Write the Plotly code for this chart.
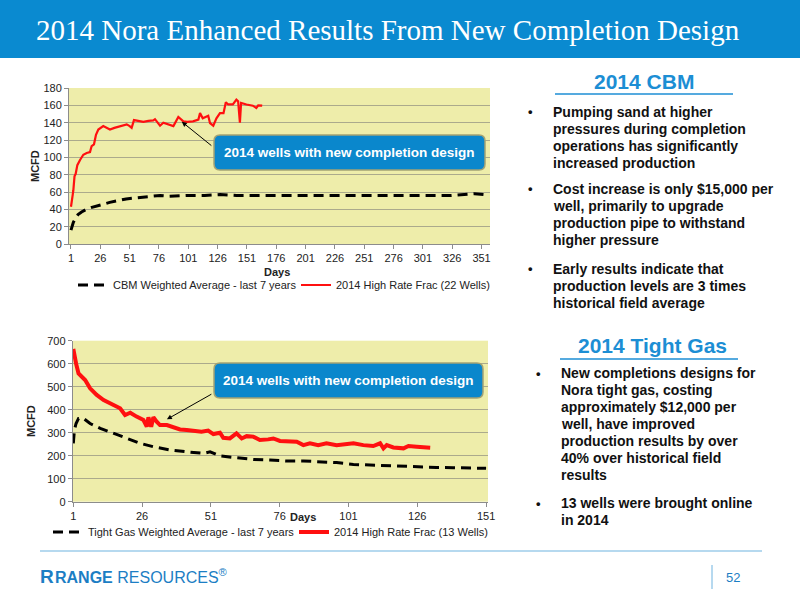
import plotly.graph_objects as go

# ---------------- DATA ----------------
# Chart 1: CBM
cbm_avg_days = [1, 2, 3, 5, 7, 10, 14, 18, 23, 28, 34, 41, 48, 55, 63, 70, 77, 85, 100, 115, 128, 142, 156, 175, 199, 220, 242, 270, 298, 325, 345, 353]
cbm_avg_vals = [16, 21, 25, 30, 34, 37, 40, 42, 44, 46, 48, 50, 52, 53, 54, 55, 56, 55, 56, 56, 57, 56, 56, 56, 56, 56, 56, 56, 56, 56, 58, 57]

cbm_new_days = [1, 2, 2.5, 3, 4, 5, 6.4, 8.7, 11.5, 14.4, 17.2, 18.6, 20.6, 22.3, 24.3, 28.5, 31, 34.2, 38, 42.8, 48.5, 51, 52.7, 54.7, 58, 62.7, 67, 71.2, 72.6, 76.9, 79.7, 85.4, 88.3, 92.5, 94, 96.8, 100, 105, 109.6, 111, 113.3, 118, 119.5, 122.3, 125, 128, 131, 133, 135, 139, 142, 143.5, 145, 146, 150.6, 156, 159, 160.6, 164]
cbm_new_vals = [43, 50, 57, 62, 78, 81, 91, 97, 103, 105, 106, 113, 115, 126, 132, 136, 134, 132, 134, 136, 138, 136, 134, 143, 142, 141, 142, 142.7, 144, 136.5, 140, 137.7, 136, 146.5, 145, 141.5, 141, 141.5, 143.5, 151, 145, 148, 139.6, 136.5, 145, 151, 151, 163.5, 161, 161, 166.5, 164.6, 140, 162.7, 161, 159.6, 157, 160, 159.6]

cbm_ticks = [1, 26, 51, 76, 101, 126, 151, 176, 201, 226, 251, 276, 301, 326, 351]

# Chart 2: Tight gas
tg_avg_days = [1, 1.4, 2, 2.9, 4.7, 7.1, 10.8, 15.6, 20.5, 25.3, 30.1, 36.2, 42.2, 48.3, 50.7, 54.3, 60.3, 66.4, 72.4, 78.5, 84.6, 90.6, 96.7, 102.8, 108.8, 114.9, 121, 127, 133, 139, 145, 151]
tg_avg_vals = [254, 311, 340, 362, 362, 340, 319, 297, 275, 254, 239, 225, 217, 210, 217, 199, 191, 184, 181, 177, 177, 174, 170, 162, 159, 157, 155, 152, 149, 148, 145, 145]

tg_new_days = [1, 1.4, 2, 2.9, 4.1, 5.3, 7.1, 9.5, 12, 13.8, 15.6, 18, 19.8, 21.7, 24, 26.5, 27.7, 28.3, 29.3, 30.1, 31.3, 32.5, 35, 37.4, 39.8, 42.2, 44.6, 47.6, 50, 51.9, 54.3, 55.5, 57.9, 60.3, 62.2, 64, 66.4, 68.8, 71.8, 73.7, 76.1, 78.5, 82.2, 84.6, 87, 90, 93, 96.7, 99.7, 102.8, 106.4, 110, 112.5, 113.7, 114.9, 117.3, 121, 122.8, 125.8, 128.3, 130.7]
tg_new_vals = [664, 630, 601, 558, 543, 529, 493, 464, 442, 430, 420, 406, 377, 387, 370, 355, 326, 367, 326, 367, 348, 333, 333, 322, 314, 312, 307, 304, 309, 294, 300, 278, 275, 297, 275, 285, 283, 268, 271, 275, 264, 264, 261, 246, 254, 246, 254, 246, 251, 254, 246, 242, 254, 232, 246, 236, 232, 242, 239, 236, 235]

tg_ticks = [1, 26, 51, 76, 101, 126, 151]

# Text
title_text = "2014 Nora Enhanced Results From New Completion Design"
cbm_lines = [
    ["Pumping sand at higher", "pressures during completion", "operations has significantly", "increased production"],
    ["Cost increase is only $15,000 per", "well, primarily to upgrade", "production pipe to withstand", "higher pressure"],
    ["Early results indicate that", "production levels are 3 times", "historical field average"],
]
tg_lines = [
    ["New completions designs for", "Nora tight gas, costing", "approximately $12,000 per", "well, have improved", "production results by over", "40% over historical field", "results"],
    ["13 wells were brought online", "in 2014"],
]

# ---------------- FIGURE ----------------
W, H = 800, 600
def px(x):
    return x / W
def py(y):
    return 1 - y / H

FONT = "Liberation Sans, Arial, sans-serif"
BLUE = "#0A8AD0"
fig = go.Figure()

dash_pat = "10px,6px"
fig.add_trace(go.Scatter(x=cbm_avg_days, y=cbm_avg_vals, mode="lines", name="CBM Weighted Average - last 7 years",
                         line=dict(color="black", width=3, dash=dash_pat), xaxis="x", yaxis="y", legend="legend"))
fig.add_trace(go.Scatter(x=cbm_new_days, y=cbm_new_vals, mode="lines", name="2014 High Rate Frac (22 Wells)",
                         line=dict(color="#FF1010", width=2.2), xaxis="x", yaxis="y", legend="legend"))
fig.add_trace(go.Scatter(x=tg_avg_days, y=tg_avg_vals, mode="lines", name="Tight Gas Weighted Average - last 7 years",
                         line=dict(color="black", width=3, dash=dash_pat), xaxis="x2", yaxis="y2", legend="legend2"))
fig.add_trace(go.Scatter(x=tg_new_days, y=tg_new_vals, mode="lines", name="2014 High Rate Frac (13 Wells)",
                         line=dict(color="#FF1010", width=4), xaxis="x2", yaxis="y2", legend="legend2"))

axis_common = dict(showline=True, linecolor="#8C8C8C", linewidth=1, ticks="outside", ticklen=4, automargin=False,
                   tickcolor="#8C8C8C", tickfont=dict(family=FONT, size=11, color="#222"), zeroline=False)
grid = dict(showgrid=True, gridcolor="#ABAA8C", gridwidth=1)

fig.update_layout(
    width=W, height=H, margin=dict(l=0, r=0, t=0, b=0, autoexpand=False),
    paper_bgcolor="white", plot_bgcolor="#EEEDAA",
    font=dict(family=FONT, size=11, color="#222"),
    xaxis=dict(domain=[px(69), px(490)], range=[-0.7, 358.2], tickvals=cbm_ticks, showgrid=False, anchor="y", **axis_common),
    yaxis=dict(domain=[py(244), py(88)], range=[0, 180], dtick=20, anchor="x", **grid, **axis_common),
    xaxis2=dict(domain=[px(72.7), px(488)], range=[0.78, 151.7], tickvals=tg_ticks, showgrid=False, anchor="y2", **axis_common),
    yaxis2=dict(domain=[py(501.7), py(340.7)], range=[0, 700], dtick=100, anchor="x2", **grid, **axis_common),
    legend=dict(orientation="h", x=px(73), y=py(285), xanchor="left", yanchor="middle",
                font=dict(family=FONT, size=11, color="#222"), bgcolor="rgba(0,0,0,0)",
                entrywidth=178, entrywidthmode="pixels", tracegroupgap=0, itemwidth=30),
    legend2=dict(orientation="h", x=px(48), y=py(532), xanchor="left", yanchor="middle",
                 font=dict(family=FONT, size=11, color="#222"), bgcolor="rgba(0,0,0,0)",
                 entrywidth=201, entrywidthmode="pixels", tracegroupgap=0, itemwidth=30),
    showlegend=True,
)

shapes = []
annotations = []

def label(text, x, y, size, color="#222", family=FONT, xanchor="center", yanchor="middle", **kw):
    annotations.append(dict(text=text, xref="paper", yref="paper", x=px(x), y=py(y), xanchor=xanchor,
                            yanchor=yanchor, showarrow=False, font=dict(family=family, size=size, color=color), **kw))

# Title bar
shapes.append(dict(type="rect", xref="paper", yref="paper", x0=0, x1=1, y0=py(58), y1=1,
                   fillcolor=BLUE, line=dict(width=0), layer="below"))
label(title_text, 34, 30, 29, "white", "Liberation Serif, Times New Roman, serif", xanchor="left")

# Axis titles
label("<b>Days</b>", 277, 272, 11)
label("<b>MCFD</b>", 35, 166, 11, textangle=-90)
label("<b>Days</b>", 303, 517, 11)
label("<b>MCFD</b>", 31, 421, 11, textangle=-90)

# Rounded callout boxes
def rounded_box(x0, y0, x1, y1, r=6):
    X0, X1 = px(x0), px(x1)
    Y0, Y1 = py(y0), py(y1)  # Y0 top, Y1 bottom
    rx, ry = r / W, r / H
    path = (f"M {X0+rx},{Y0} L {X1-rx},{Y0} Q {X1},{Y0} {X1},{Y0-ry} L {X1},{Y1+ry} Q {X1},{Y1} {X1-rx},{Y1} "
            f"L {X0+rx},{Y1} Q {X0},{Y1} {X0},{Y1+ry} L {X0},{Y0-ry} Q {X0},{Y0} {X0+rx},{Y0} Z")
    return dict(type="path", xref="paper", yref="paper", path=path, fillcolor="#0A87CC",
                line=dict(color="#A3A374", width=1.5), layer="above")

for (bx0, by0, bx1, by1) in [(214, 135, 485, 170), (214, 363, 483, 398)]:
    shapes.append(rounded_box(bx0, by0, bx1, by1))
    label("<b>2014 wells with new completion design</b>", (bx0 + bx1) / 2, (by0 + by1) / 2, 13.5, "white")

# Arrows
annotations.append(dict(text="", x=95.5, y=141, xref="x", yref="y", showarrow=True, ax=31, ay=25,
                        arrowhead=2, arrowsize=1, arrowwidth=1, arrowcolor="black", standoff=0))
annotations.append(dict(text="", x=35, y=358, xref="x2", yref="y2", showarrow=True, ax=46, ay=-26,
                        arrowhead=2, arrowsize=1, arrowwidth=1, arrowcolor="black", standoff=0))

# Right-side text
HEAD_BLUE = "#1C8ED4"
label("<b>2014 CBM</b>", 644, 81, 21, HEAD_BLUE)
shapes.append(dict(type="line", xref="paper", yref="paper", x0=px(555), x1=px(733), y0=py(94), y1=py(94),
                   line=dict(color=HEAD_BLUE, width=1.5)))
label("<b>2014 Tight Gas</b>", 652, 345, 21, HEAD_BLUE)
shapes.append(dict(type="line", xref="paper", yref="paper", x0=px(560), x1=px(738), y0=py(359), y1=py(359),
                   line=dict(color=HEAD_BLUE, width=1.5)))

def add_bullets(blocks, starts, bx, tx, lh=17):
    for block, y0 in zip(blocks, starts):
        label("<b>•</b>", bx, y0, 13, "#111")
        for i, line in enumerate(block):
            label(f"<b>{line}</b>", tx, y0 + i * lh, 14, "#111", xanchor="left")

add_bullets(cbm_lines, [112, 189, 269], 530, 551)
add_bullets(tg_lines, [373, 503], 538, 559)

# Footer
LOGO_BLUE = "#1C7EC4"
shapes.append(dict(type="line", xref="paper", yref="paper", x0=px(40), x1=px(762), y0=py(551), y1=py(551),
                   line=dict(color="#6FB3E0", width=1.2)))
shapes.append(dict(type="line", xref="paper", yref="paper", x0=px(712), x1=px(712), y0=py(565), y1=py(589),
                   line=dict(color="#6FB3E0", width=1)))
label("<b>R</b>", 38, 576, 19, LOGO_BLUE, xanchor="left")
label("<b>RANGE</b> RESOURCES<sup>®</sup>", 53, 576, 16, LOGO_BLUE,
      "Liberation Sans Narrow, Arial Narrow, sans-serif", xanchor="left")
label("52", 724, 577, 13, LOGO_BLUE, "Liberation Sans Narrow, Arial Narrow, sans-serif", xanchor="left")

fig.update_layout(shapes=shapes, annotations=annotations)
fig.write_html("out.html", config={"displayModeBar": False},
               post_script="document.body.style.margin='0';document.body.style.padding='0';")
